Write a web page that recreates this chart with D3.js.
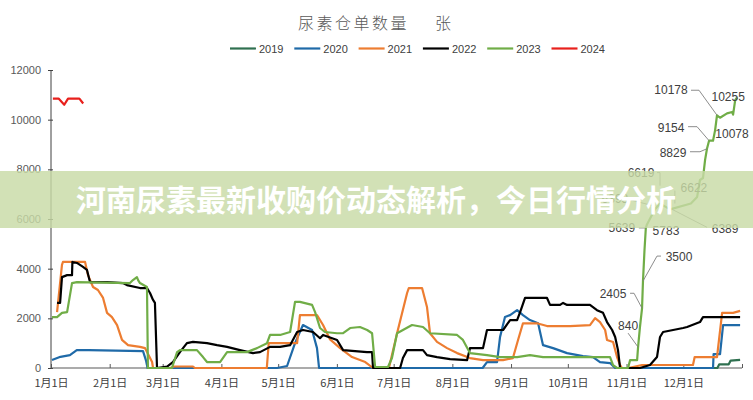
<!DOCTYPE html>
<html><head><meta charset="utf-8">
<script src="https://cdn.jsdelivr.net/npm/d3@7"></script>
<style>
html,body{margin:0;padding:0;background:#fff;}
svg{display:block;}
</style></head>
<body>
<script>
// ---------- DATA ----------
const titleText = "尿素仓单数量";
const titleUnit = "张";
const bannerText = "河南尿素最新收购价动态解析，今日行情分析";
const years = ["2019","2020","2021","2022","2023","2024"];
const yTicks = [0,2000,4000,6000,8000,10000,12000];
const monthLabels = ["1月1日","2月1日","3月1日","4月1日","5月1日","6月1日","7月1日","8月1日","9月1日","10月1日","11月1日","12月1日"];
const monthStartDays = [0,31,59,90,120,151,181,212,243,273,304,334];

// [dayOfYear, value]
const s2019 = [[304,0],[352,0],[353,150],[358,150],[359,300],[364,330]];
const s2020 = [[0.5,320],[5,450],[10,520],[13.6,720],[20,720],[48.6,680],[50.2,300],[51,0],[119.4,0],[124.7,80],[128.9,1000],[133.1,1730],[137.9,1530],[140.5,800],[141.6,0],[228,0],[230.3,240],[235.6,240],[237.2,1250],[239.8,2050],[242.5,2130],[246.2,2330],[249.3,2130],[253,1930],[257.3,1800],[259.9,920],[265.2,800],[272.6,600],[281,480],[286.3,440],[290,240],[295.3,200],[298,0],[349.7,0],[350,560],[353.4,560],[355,1730],[364,1730]];
const s2021 = [[3.2,2250],[5.8,4150],[6.3,4270],[18,4270],[19.5,3750],[22.2,3260],[24.8,3140],[27.5,2820],[29.6,2220],[32.2,2050],[34.9,1730],[37.5,1130],[40.7,920],[47,850],[49.7,800],[53.4,240],[53.9,0],[63,0],[65,60],[75,60],[76,0],[114,0],[115,1000],[130,1000],[131.5,2130],[140.5,2130],[143.7,1730],[147.4,1150],[152.7,800],[159,440],[166,240],[170.1,0],[178.5,0],[182.8,1400],[188.1,3020],[189,3220],[196,3220],[198.6,2460],[200.2,1400],[203.9,1050],[209.2,800],[214.5,600],[221.3,400],[228.2,320],[238.8,320],[244,400],[246.7,1130],[249.3,1800],[256.7,1800],[262,1690],[274.2,1690],[284.7,1730],[287.4,2010],[290,1850],[292.7,1530],[293.7,1130],[296.9,1050],[299,440],[300.6,120],[301.6,0],[305,0],[312.2,120],[339.1,120],[340,440],[351.8,440],[354.5,2220],[360.3,2220],[364,2300]];
const s2022 = [[3.2,2620],[4.8,2620],[5.8,3660],[8.5,3740],[11.1,3740],[11.3,4270],[13.7,4230],[16.9,4070],[19,3950],[20.6,3460],[29.6,3460],[38,3420],[40.1,3340],[47,3220],[50.7,3220],[52.3,3020],[53.9,2740],[54.9,2620],[56,0],[61.3,60],[64.4,240],[68.1,640],[71.8,1000],[75,1050],[82.4,1000],[87.7,920],[93,850],[99.8,720],[106.7,600],[110.4,640],[115.7,850],[121,850],[126.3,920],[130,1450],[133.1,1530],[138.4,1450],[142.1,1200],[143.7,1330],[151.1,1130],[154.3,720],[166.9,640],[169.6,640],[170.1,0],[184.4,0],[185.9,400],[188.1,720],[196.5,720],[198.6,520],[203.9,440],[210.8,360],[219.8,320],[221.3,800],[228.2,800],[230.3,1530],[238.8,1530],[242.5,1930],[246.2,1930],[247.8,2250],[250.4,2820],[262,2820],[263.6,2540],[268.9,2540],[270.5,2620],[272.6,2540],[284.7,2540],[288.4,2330],[291.6,2220],[293.7,1850],[296.4,1530],[298,1250],[299.5,720],[300.6,0],[311.1,0],[316.4,120],[320.1,440],[321.7,1250],[323.3,1450],[328.6,1530],[333.9,1610],[336,1650],[342.8,1850],[344.4,2050],[364,2050]];
const s2023 = [[0.5,2050],[3.2,2050],[5.8,2220],[8.5,2250],[11.1,3420],[13.7,3460],[41.7,3420],[43.3,3540],[45.4,3660],[46,3540],[47,3420],[50.7,3260],[51.2,0],[63.9,0],[66.6,640],[68.1,720],[77.1,720],[80.3,440],[82.4,240],[89.3,240],[93,640],[103.5,640],[108.8,800],[114.1,1000],[115.7,1330],[121,1330],[126.3,1450],[128.9,2660],[131.5,2660],[137.9,2540],[139.5,2250],[142.1,1610],[144.7,1450],[151.1,1400],[154.3,1400],[158,1610],[163.2,1650],[167,1530],[169.6,1400],[171.2,40],[178,40],[180.1,400],[182.8,1400],[185.9,1530],[190.7,1730],[196.5,1650],[200.2,1400],[214.5,1330],[217.6,1130],[221.3,600],[230.3,520],[237.2,440],[246.2,440],[253,520],[259.9,440],[295.3,440],[296.9,120],[299,0],[304.8,0],[305.9,320],[309.6,320],[310.1,840],[311.1,1650],[312.2,2405],[312.7,3500],[313.5,4750],[314.2,5639],[314.8,5783],[319,6393],[321.7,6619],[327,6389],[338,6622],[341.3,6890],[342.8,7570],[344.4,7650],[345.5,8380],[346.5,8829],[347.6,9154],[349.7,9154],[350.8,9580],[351.8,10178],[353.4,10078],[357.1,10255],[359.8,10310],[360.3,10200],[361.4,10790],[362.4,10900]];
const s2024 = [[1,10850],[4,10850],[7,10600],[9,10850],[15,10850],[17,10650]];

// annotation labels on 2023 series: text, day, value
const annTexts = ["840","2405","3500","5639","5783","6393","6619","6389","6622","8829","9154","10178","10255","10078"];
const annDays  = [310.1,312.2,312.7,314.2,314.8,319,321.7,327,338,346.5,347.6,351.8,361.4,353.4];
const annVals  = [840,2405,3500,5639,5783,6393,6619,6389,6622,8829,9154,10178,10790,10078];

// ---------- LAYOUT ----------
const W = 753, H = 400;
const colors = ["#2f7050","#1f6aa8","#ed7d31","#000000","#70ad47","#e8201c"];
const seriesList = [s2019,s2020,s2021,s2022,s2023,s2024];

const svg = d3.select("body").append("svg").attr("width",W).attr("height",H)
  .style("font-family","'Liberation Sans', Arial, sans-serif");

const x = d3.scaleLinear().domain([0,365]).range([51,742]);
const y = d3.scaleLinear().domain([0,12000]).range([368,70]);

// title
svg.append("text").attr("x",298).attr("y",29).text(titleText)
  .style("font-family","'Noto Sans CJK SC'").style("font-weight",300)
  .style("font-size","16px").style("letter-spacing","2.5px").attr("fill","#595959");
svg.append("text").attr("x",435).attr("y",29).text(titleUnit)
  .style("font-family","'Noto Sans CJK SC'").style("font-weight",300)
  .style("font-size","16px").attr("fill","#595959");

// legend
const lg = svg.append("g");
years.forEach((yr,i)=>{
  const lx = 230 + i*64.3;
  lg.append("line").attr("x1",lx).attr("x2",lx+26).attr("y1",48.5).attr("y2",48.5)
    .attr("stroke",colors[i]).attr("stroke-width",2.2);
  lg.append("text").attr("x",lx+29).attr("y",52.5).text(yr)
    .style("font-size","11px").attr("fill","#404040");
});

// y axis
const yAxis = d3.axisLeft(y).tickValues(yTicks).tickSize(4).tickFormat(d3.format("d"));
const gy = svg.append("g").attr("transform","translate(51,0)").call(yAxis);
gy.select(".domain").attr("stroke","#404040").attr("d","M0,70V368");
gy.selectAll(".tick line").attr("stroke","#404040").attr("x1",-3).attr("x2",2);
gy.selectAll(".tick text").attr("x",-10).style("font-size","11px")
  .style("font-family","'Liberation Sans', Arial, sans-serif").attr("fill","#595959");

// x axis
const xAxis = d3.axisBottom(x).tickValues(monthStartDays.concat([365])).tickSize(0)
  .tickFormat((d,i)=> monthLabels[i] || "");
const gx = svg.append("g").attr("transform","translate(0,368)").call(xAxis);
gx.select(".domain").attr("stroke","#595959").attr("stroke-width",1.2).attr("d","M51,0H742");
gx.selectAll(".tick line").attr("y2",-4).attr("stroke","#595959");
gx.selectAll(".tick text").attr("y",11).style("font-size","11px")
  .style("font-family","'Noto Sans CJK SC', sans-serif").attr("fill","#404040");

// series lines
const line = d3.line().x(d=>x(d[0])).y(d=>y(d[1]));
const gl = svg.append("g");
seriesList.forEach((s,i)=>{
  gl.append("path").datum(s).attr("d",line).attr("fill","none")
    .attr("stroke",colors[i]).attr("stroke-width",2.2).attr("stroke-linejoin","round");
});

// annotations: label offsets (dx,dy of text center from point) and leader style
const annLayout = [
  {tx:-10,ty:-21,lead:[[-10,-14],[0,0]]},
  {tx:-29,ty:-14,lead:[[-12,-15],[-8,-15],[0,0]]},
  {tx:36,ty:-24,lead:[[18,-25],[14,-25],[0,0]]},
  {tx:-24,ty:0,lead:[[-7,0],[0,0]]},
  {tx:19,ty:6,lead:null},
  {tx:-40,ty:-10,lead:[[-27,-10],[0,-3]]},
  {tx:-19,ty:-31,lead:[[-3,-31],[0,-31],[0,-18]]},
  {tx:55,ty:19,lead:[[37,18],[2,0]]},
  {tx:3,ty:-16,lead:[[-16,-13],[-16,0]]},
  {tx:-34,ty:4,lead:[[-17,3],[-7,3],[0,0]]},
  {tx:-38,ty:-13,lead:[[-21,-14],[-12,-14],[0,0]]},
  {tx:-46,ty:-25,lead:[[-26,-25],[-18,-25],[0,0]]},
  {tx:-7,ty:-3,lead:null},
  {tx:12,ty:16,lead:null}
];
const ga = svg.append("g");
annTexts.forEach((t,i)=>{
  const px = x(annDays[i]), py = y(annVals[i]);
  const L = annLayout[i];
  if (L.lead){
    ga.append("path").attr("d", d3.line()(L.lead.map(p=>[px+p[0],py+p[1]])))
      .attr("fill","none").attr("stroke","#7f7f7f").attr("stroke-width",0.9);
  }
  ga.append("text").attr("x",px+L.tx).attr("y",py+L.ty).attr("dy","0.35em")
    .attr("text-anchor","middle").text(t).style("font-size","12px").attr("fill","#404040");
});

// banner overlay
svg.append("rect").attr("x",0).attr("y",171).attr("width",W).attr("height",57)
  .attr("fill","rgb(200,219,166)").attr("fill-opacity",0.82);
svg.append("text").attr("x",376).attr("y",200).attr("dy","0.36em")
  .attr("text-anchor","middle").text(bannerText)
  .style("font-family","'Noto Sans CJK SC', sans-serif").style("font-weight",700)
  .style("font-size","30px").attr("fill","#ffffff");
</script>
</body></html>
